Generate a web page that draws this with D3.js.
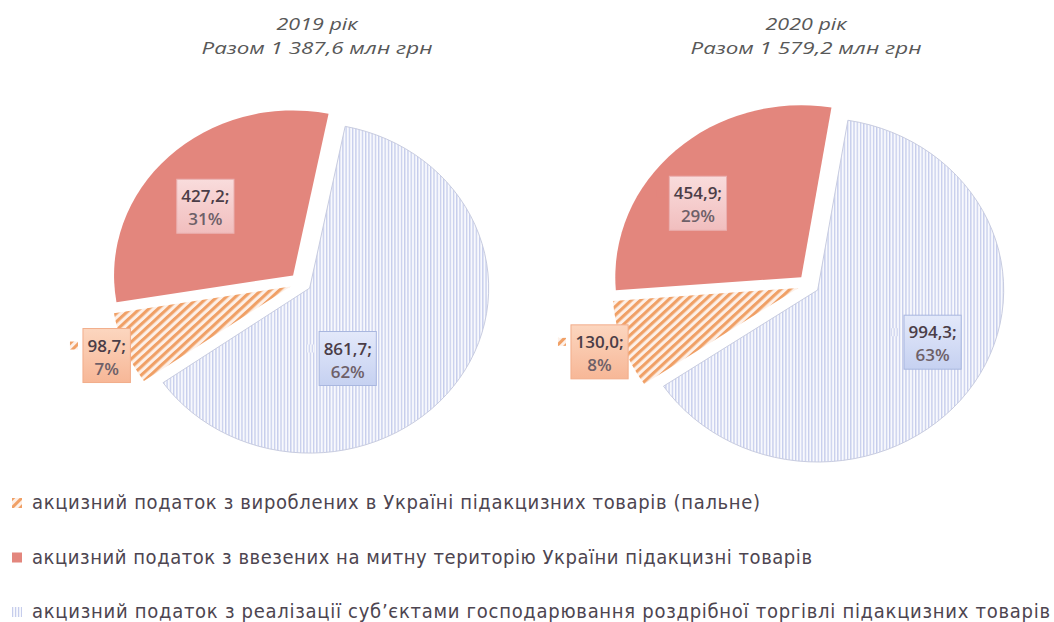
<!DOCTYPE html>
<html>
<head>
<meta charset="utf-8">
<script src="https://cdn.jsdelivr.net/npm/d3@7"></script>
<style>
  body { margin: 0; background: #fff; }
  svg { display: block; }
</style>
</head>
<body>
<svg id="chart" width="1054" height="622"></svg>
<script>
// Data
const categories = [
    "акцизний  податок з вироблених  в Україні підакцизних товарів (пальне)",
    "акцизний  податок з ввезених  на митну територію України підакцизні товарів",
    "акцизний  податок з реалізації суб’єктами господарювання роздрібної торгівлі підакцизних товарів"
];
const years = ["2019 рік", "2020 рік"];
const values2019 = [98.7, 427.2, 861.7];
const values2020 = [130.0, 454.9, 994.3];

const svg = d3.select("#chart");
const ua = d3.formatLocale({ decimal: ",", thousands: " ", grouping: [3], currency: ["", ""] });
const fmtTotal = ua.format(",.1f");
const fmtVal = ua.format(".1f");

// Patterns and gradients
const defs = svg.append("defs");
const hatch = defs.append("pattern")
    .attr("id", "hatch-orange")
    .attr("patternUnits", "userSpaceOnUse")
    .attr("width", 6).attr("height", 6)
    .attr("patternTransform", "rotate(45)");
hatch.append("rect").attr("width", 6).attr("height", 6).attr("fill", "#fdf0e8");
hatch.append("rect").attr("width", 3).attr("height", 6).attr("fill", "#f0a066");

const vlines = defs.append("pattern")
    .attr("id", "vlines-blue")
    .attr("patternUnits", "userSpaceOnUse")
    .attr("width", 3).attr("height", 3);
vlines.append("rect").attr("width", 3).attr("height", 3).attr("fill", "#f8f9fd");
vlines.append("rect").attr("width", 1.2).attr("height", 3).attr("fill", "#c6cdec");

const fills = ["url(#hatch-orange)", "#e3867d", "url(#vlines-blue)"];
const boxColors = [["#fcd6bf", "#f7b797"], ["#f9dcdc", "#f1bebe"], ["#e3e9fa", "#c6d1f1"]];
const boxStroke = ["#f2ad8a", "#eab0b0", "#a9b7df"];

boxColors.forEach((c, i) => {
    const gr = defs.append("linearGradient").attr("id", "box" + i)
        .attr("x1", 0).attr("y1", 0).attr("x2", 0).attr("y2", 1);
    gr.append("stop").attr("offset", "0%").attr("stop-color", c[0]);
    gr.append("stop").attr("offset", "100%").attr("stop-color", c[1]);
});

// Layout of the two pies (slightly elliptical, as in the scan)
const panels = [
    { year: years[0], values: values2019, cx: 300.6, cy: 282.6, rx: 179, ry: 165, start: 235, titleX: 317,
      labelAt: [{ da: 0, r: 1.17 }, { da: -5, r: 0.705 }, { da: 27, r: 0.53 }] },
    { year: years[1], values: values2020, cx: 808.6, cy: 284.6, rx: 186, ry: 172, start: 236, titleX: 806,
      labelAt: [{ da: 0, r: 1.19 }, { da: -9, r: 0.76 }, { da: -6, r: 0.746 }] }
];
const explode = 10;

panels.forEach(p => {
    const total = d3.sum(p.values);
    const a0 = p.start * Math.PI / 180;
    const pie = d3.pie().sort(null).startAngle(a0).endAngle(a0 + 2 * Math.PI);
    const arcs = pie(p.values);
    const arc = d3.arc().innerRadius(0).outerRadius(p.ry);

    const g = svg.append("g")
        .attr("transform", `translate(${p.cx},${p.cy}) scale(${p.rx / p.ry},1)`);

    g.selectAll("path")
        .data(arcs)
        .join("path")
        .attr("transform", d => {
            const m = (d.startAngle + d.endAngle) / 2;
            return `translate(${explode * Math.sin(m)},${-explode * Math.cos(m)})`;
        })
        .attr("d", arc)
        .attr("fill", (d, i) => fills[i])
        .attr("stroke", (d, i) => i === 2 ? "#c8cce0" : "none")
        .attr("stroke-width", 1)
        .attr("vector-effect", "non-scaling-stroke");

    // Titles
    const title = svg.append("g")
        .attr("font-family", "'Open Sans', sans-serif")
        .attr("font-style", "italic")
        .attr("font-size", 17)
        .attr("fill", "#585858")
        .attr("text-anchor", "middle");
    title.append("text").attr("x", p.titleX).attr("y", 30)
        .attr("textLength", 81).attr("lengthAdjust", "spacingAndGlyphs")
        .text(p.year);
    title.append("text").attr("x", p.titleX).attr("y", 54)
        .attr("textLength", 231).attr("lengthAdjust", "spacingAndGlyphs")
        .text(`Разом ${fmtTotal(total)} млн грн`);

    // Data labels
    arcs.forEach((d, i) => {
        const m = (d.startAngle + d.endAngle) / 2 + p.labelAt[i].da * Math.PI / 180;
        const lx = p.cx + p.rx * p.labelAt[i].r * Math.sin(m);
        const ly = p.cy - p.ry * p.labelAt[i].r * Math.cos(m);
        const lg = svg.append("g")
            .attr("transform", `translate(${lx},${ly})`)
            .attr("font-family", "'Open Sans', sans-serif")
            .attr("font-size", 17)
            .attr("font-weight", 600)
            .attr("text-anchor", "middle");
        const box = lg.append("rect");
        const t1 = lg.append("text").attr("y", -4).attr("fill", "#4b3d47")
            .text(fmtVal(d.value) + ";");
        const t2 = lg.append("text").attr("y", 19).attr("fill", "#6e6068")
            .text(Math.round(d.value / total * 100) + "%");
        const w = Math.max(t1.node().getComputedTextLength(), t2.node().getComputedTextLength()) + 9;
        box.attr("x", -w / 2).attr("y", -27).attr("width", w).attr("height", 54)
            .attr("fill", `url(#box${i})`)
            .attr("stroke", boxStroke[i]);
        lg.append("rect")
            .attr("x", -w / 2 - 13).attr("y", -14)
            .attr("width", 8).attr("height", 8)
            .attr("fill", fills[i]);
    });
});

// Legend
const legendWidths = [728, 780, 1018];
const rowY = d3.scalePoint().domain(categories).range([503, 612]);
const legend = svg.append("g")
    .attr("font-family", "'DejaVu Sans Condensed', 'Liberation Sans Narrow', sans-serif")
    .attr("font-size", 20);

categories.forEach((c, i) => {
    legend.append("rect")
        .attr("x", 12).attr("y", rowY(c) - 5)
        .attr("width", 10).attr("height", 10)
        .attr("fill", fills[i]);
    legend.append("text")
        .attr("x", 32).attr("y", rowY(c) + 6)
        .attr("fill", "#4d4550")
        .attr("textLength", legendWidths[i])
        .attr("lengthAdjust", "spacing")
        .text(c);
});
</script>
</body>
</html>
